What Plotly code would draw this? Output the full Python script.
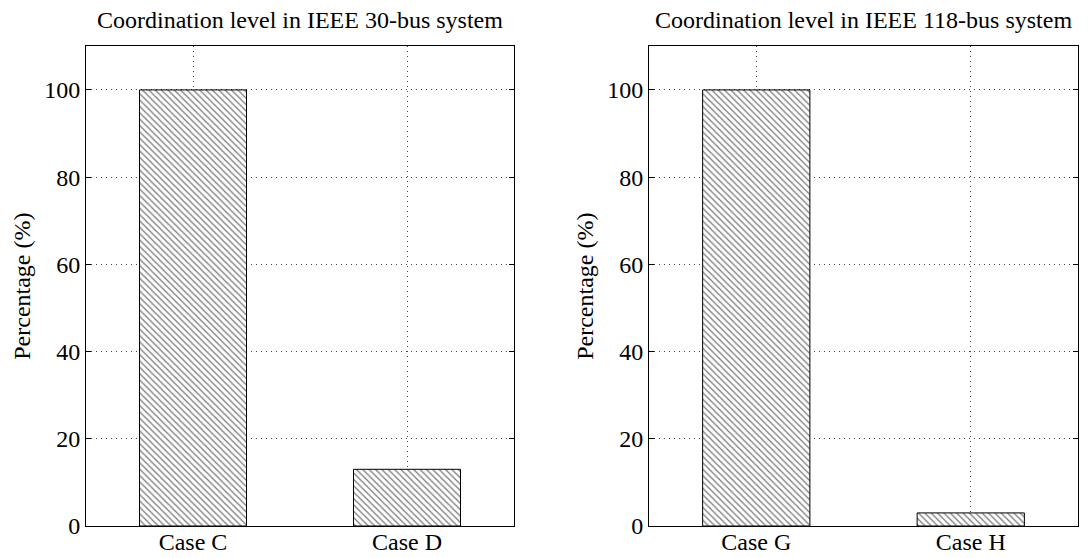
import plotly.graph_objects as go

# Coordination level per case (%)
cases_30 = ["Case C", "Case D"]
values_30 = [100, 13]
cases_118 = ["Case G", "Case H"]
values_118 = [100, 3]
titles = ["Coordination level in IEEE 30-bus system",
          "Coordination level in IEEE 118-bus system"]
y_ticks = [0, 20, 40, 60, 80, 100]

W, H = 1089, 558
FONT = "Liberation Serif"
FS = 24

fig = go.Figure()

def bar(cats, vals, xa, ya):
    return go.Bar(
        x=cats, y=vals, xaxis=xa, yaxis=ya, width=0.5,
        marker=dict(
            color="white",
            line=dict(color="black", width=1),
            pattern=dict(shape="\\", fgcolor="black", bgcolor="white",
                         size=4.5, solidity=0.3, fillmode="overlay"),
        ),
        showlegend=False,
    )

fig.add_trace(bar(cases_30, values_30, "x", "y"))
fig.add_trace(bar(cases_118, values_118, "x2", "y2"))

y0 = (H - 526) / H
y1 = (H - 46.3) / H
doms = [(86 / W, 514 / W), (649 / W, 1078 / W)]

axis_common = dict(
    showline=True, linecolor="black", linewidth=1, mirror="ticks",
    ticks="inside", ticklen=5, tickcolor="black",
    showgrid=True, gridcolor="#444444", griddash="1px,4px", gridwidth=1,
    zeroline=False, automargin=False,
    tickfont=dict(family=FONT, size=FS, color="black"),
)

for i, (d, cats) in enumerate(zip(doms, [cases_30, cases_118])):
    sfx = "" if i == 0 else str(i + 1)
    fig.layout["xaxis" + sfx] = dict(
        axis_common, domain=list(d), anchor="y" + sfx,
        range=[-0.5, 1.5], type="category", categoryarray=cats,
        ticklen=0, ticklabelstandoff=-6,
    )
    fig.layout["yaxis" + sfx] = dict(
        axis_common, domain=[y0, y1], anchor="x" + sfx,
        range=[0, 110], tickvals=y_ticks,
        title=dict(text="Percentage (%)", standoff=6,
                   font=dict(family=FONT, size=FS, color="black")),
    )
    fig.add_annotation(
        text=titles[i], xref="paper", yref="paper",
        x=(d[0] + d[1]) / 2, y=(H - 20) / H, xanchor="center", yanchor="middle",
        showarrow=False, font=dict(family=FONT, size=FS, color="black"),
    )

fig.update_layout(
    width=W, height=H, margin=dict(l=0, r=0, t=0, b=0),
    paper_bgcolor="white", plot_bgcolor="white",
    bargap=0.5,
)

fig.write_html("out.html")
